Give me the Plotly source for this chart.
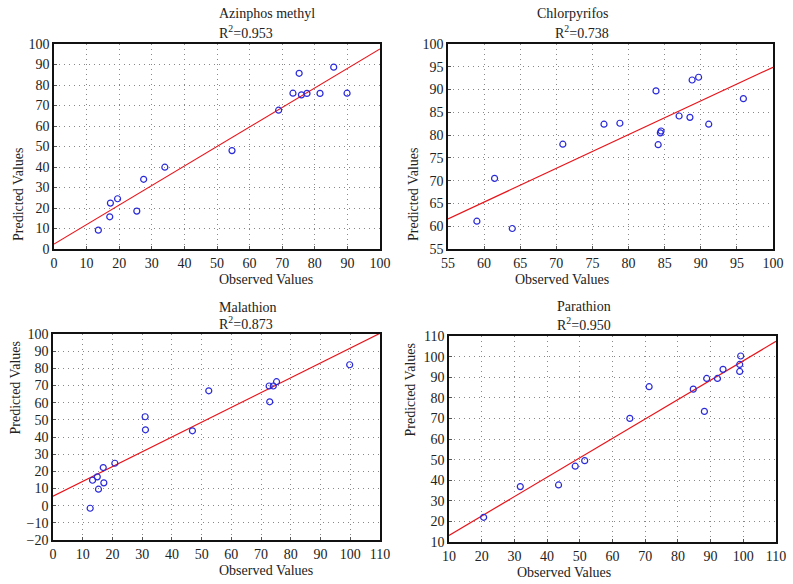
import plotly.graph_objects as go

# ---------------- data ----------------
titles = ["Azinphos methyl", "Chlorpyrifos", "Malathion", "Parathion"]
r2_values = ["0.953", "0.738", "0.873", "0.950"]

azm_obs = [13.6, 17.1, 17.3, 19.5, 25.4, 27.5, 34.0, 54.6, 68.9, 73.3, 75.2, 75.9, 77.6, 81.6, 85.8, 89.9]
azm_pred = [9.2, 15.7, 22.4, 24.5, 18.5, 34.0, 39.9, 48.0, 67.7, 76.0, 85.7, 75.2, 75.9, 75.9, 88.7, 76.0]

chl_obs = [59.0, 61.45, 63.9, 70.9, 76.6, 78.8, 83.8, 84.1, 84.4, 84.5, 87.0, 88.5, 88.8, 89.7, 91.1, 95.9]
chl_pred = [61.1, 70.5, 59.5, 78.0, 82.4, 82.6, 89.7, 77.9, 80.5, 80.9, 84.2, 83.9, 92.1, 92.7, 82.4, 88.0]

mal_obs = [12.5, 13.3, 14.9, 15.3, 16.9, 17.1, 20.8, 31.0, 31.1, 46.9, 52.4, 72.7, 72.9, 74.1, 75.2, 99.8]
mal_pred = [-1.5, 14.8, 16.8, 9.6, 22.2, 13.3, 24.7, 51.8, 44.2, 43.6, 66.9, 69.7, 60.5, 69.7, 72.2, 82.1]

par_obs = [20.6, 31.8, 43.5, 48.6, 51.5, 65.3, 71.2, 84.7, 88.1, 88.8, 92.1, 93.8, 98.9, 98.9, 99.2]
par_pred = [22.0, 36.9, 37.7, 46.8, 49.5, 70.0, 85.4, 84.2, 73.4, 89.4, 89.4, 93.8, 92.8, 96.2, 100.3]

# fitted line end points
azm_line_x = [0, 100]
azm_line_y = [2.4, 97.6]
chl_line_x = [55, 100]
chl_line_y = [61.6, 94.9]
mal_line_x = [0, 110]
mal_line_y = [5.5, 100.4]
par_line_x = [10, 110]
par_line_y = [13.2, 107.4]

# axis ranges and tick steps
x_ranges = [[0, 100], [55, 100], [0, 110], [10, 110]]
y_ranges = [[0, 100], [55, 100], [-20, 100], [10, 110]]
x_steps = [10, 5, 10, 10]
y_steps = [10, 5, 10, 10]

# ---------------- layout helpers ----------------
W, H = 793, 584


def fx(X):
    return X / W


def fy(Y):
    return 1 - Y / H


boxes = [  # plot areas on screen: x0, x1, y0(top), y1(bottom)
    (54, 380, 44, 249),
    (448, 773, 44, 249),
    (53, 380, 334, 540),
    (449, 776, 336, 542),
]
title_pos = [(13, 32), (13, 32), (307, 323), (306, 324)]
xtitle_pos = [280, 280, 570, 572]
ytitle_pos = [18, 413, 15, 410]

FONT = "Liberation Serif, Times New Roman, serif"
TXT = "#222222"
fig = go.Figure()

obs_sets = [azm_obs, chl_obs, mal_obs, par_obs]
pred_sets = [azm_pred, chl_pred, mal_pred, par_pred]
line_xs = [azm_line_x, chl_line_x, mal_line_x, par_line_x]
line_ys = [azm_line_y, chl_line_y, mal_line_y, par_line_y]

for i in range(4):
    xa = "x" if i == 0 else f"x{i+1}"
    ya = "y" if i == 0 else f"y{i+1}"
    fig.add_trace(go.Scatter(x=line_xs[i], y=line_ys[i], mode="lines",
                             line=dict(color="#e8141a", width=1.2),
                             xaxis=xa, yaxis=ya, showlegend=False))
    fig.add_trace(go.Scatter(x=obs_sets[i], y=pred_sets[i], mode="markers",
                             marker=dict(symbol="circle-open", size=6, color="#2a2ad8",
                                         line=dict(width=1.2, color="#2a2ad8")),
                             xaxis=xa, yaxis=ya, showlegend=False, cliponaxis=False))

    x0, x1, y0, y1 = boxes[i]
    xd = [fx(x0), fx(x1)]
    yd = [fy(y1), fy(y0)]
    axis_common = dict(showline=True, linecolor="#111111", linewidth=1.5, mirror=True,
                       showgrid=True, gridcolor="#888888", gridwidth=1, griddash="1px,4px",
                       zeroline=False, ticks="inside", ticklen=3, tickcolor="#555555",
                       automargin=False,
                       tickfont=dict(family=FONT, size=14, color=TXT))
    xkey = "xaxis" if i == 0 else f"xaxis{i+1}"
    ykey = "yaxis" if i == 0 else f"yaxis{i+1}"
    fig.update_layout({
        xkey: dict(domain=xd, range=x_ranges[i], dtick=x_steps[i], tick0=x_ranges[i][0],
                   anchor=ya, **axis_common),
        ykey: dict(domain=yd, range=y_ranges[i], dtick=y_steps[i], tick0=y_ranges[i][0],
                   anchor=xa, **axis_common),
    })

    cx = fx((x0 + x1) / 2)
    fig.add_annotation(x=cx, y=fy(title_pos[i][0]), xref="paper", yref="paper",
                       text=titles[i], showarrow=False,
                       font=dict(family=FONT, size=14, color=TXT), yanchor="middle")
    fig.add_annotation(x=cx, y=fy(title_pos[i][1]), xref="paper", yref="paper",
                       text="R<sup>2</sup>=" + r2_values[i], showarrow=False,
                       font=dict(family=FONT, size=14, color=TXT), yanchor="middle")
    fig.add_annotation(x=cx, y=fy(xtitle_pos[i]), xref="paper", yref="paper",
                       text="Observed Values", showarrow=False,
                       font=dict(family=FONT, size=14, color=TXT), yanchor="middle")
    fig.add_annotation(x=fx(ytitle_pos[i]), y=fy((y0 + y1) / 2),
                       xref="paper", yref="paper",
                       text="Predicted Values", showarrow=False, textangle=-90,
                       font=dict(family=FONT, size=14, color=TXT), xanchor="center")

fig.update_layout(width=W, height=H, margin=dict(l=0, r=0, t=0, b=0, autoexpand=False),
                  paper_bgcolor="white", plot_bgcolor="white", showlegend=False)

fig.write_html("out.html", config={"displayModeBar": False},
               post_script="document.body.style.margin='0';")
